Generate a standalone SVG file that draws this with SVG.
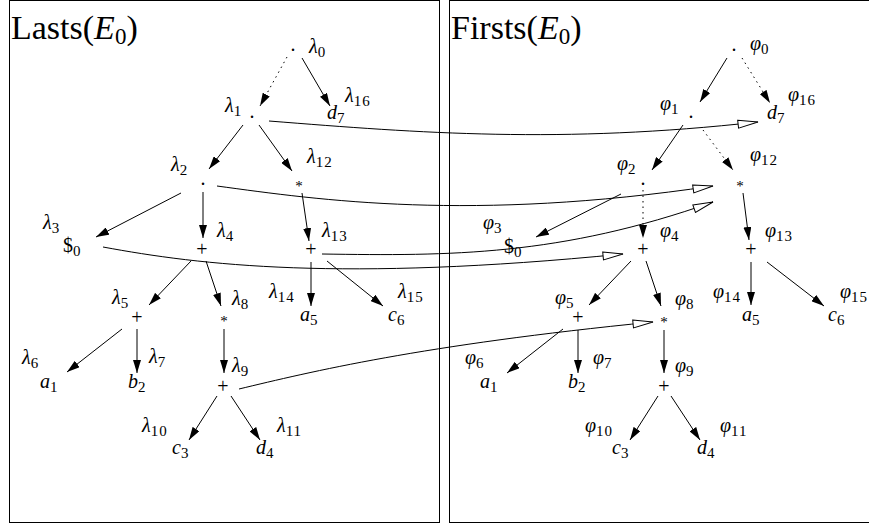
<svg xmlns="http://www.w3.org/2000/svg" width="869" height="525" viewBox="0 0 869 525">
<style>
text { font-family: "Liberation Serif", "Times New Roman", serif; font-size: 20px; fill: #000; }
.it { font-style: italic; }
.s { font-size: 15px; font-style: normal; letter-spacing: 1px; }
.title { font-size: 34px; }
.ts { font-size: 23px; }
.pl { font-size: 20px; text-anchor: middle; }
.st { font-size: 15px; text-anchor: middle; }
.dt { text-anchor: middle; }
.e { stroke: #000; stroke-width: 1; fill: none; marker-end: url(#ah); }
.d { stroke-dasharray: 1.5 4; }
.x { stroke: #000; stroke-width: 1; fill: none; marker-end: url(#oh); }
.panel { fill: none; stroke: #000; stroke-width: 1; }
</style>
<defs>
<marker id="ah" viewBox="0 0 13 8" refX="13" refY="4" markerWidth="13" markerHeight="8" markerUnits="userSpaceOnUse" orient="auto"><path d="M0,0 L13,4 L0,8 z" fill="#000"/></marker>
<marker id="oh" viewBox="0 0 22 10" refX="21" refY="5" markerWidth="22" markerHeight="10" markerUnits="userSpaceOnUse" orient="auto"><path d="M1,1 L21,5 L1,9 z" fill="#fff" stroke="#000" stroke-width="1"/></marker>
</defs>
<rect width="869" height="525" fill="#fff"/>
<g id="panels">
<rect class="panel" x="9.5" y="0.5" width="430" height="522"/>
<rect class="panel" x="449.5" y="0.5" width="430" height="522"/>
<text class="title" x="11" y="39">Lasts(<tspan class="it">E</tspan><tspan class="ts" dy="5">0</tspan><tspan dy="-5">)</tspan></text>
<text class="title" x="451" y="39">Firsts(<tspan class="it">E</tspan><tspan class="ts" dy="5">0</tspan><tspan dy="-5">)</tspan></text>
</g>
<g id="connectors">
<path class="e d" d="M287,57 L260,106"/>
<path class="e" d="M302,58 L330,106"/>
<path class="e" d="M243,125 L209,169"/>
<path class="e" d="M259,125 L292,171"/>
<path class="e" d="M181,193 L96,237"/>
<path class="e" d="M203,192 L203,238"/>
<path class="e" d="M302,193 L309,241"/>
<path class="e" d="M191,261 L149,305"/>
<path class="e" d="M206,261 L221,306"/>
<path class="e" d="M311,262 L311,306"/>
<path class="e" d="M327,261 L383,306"/>
<path class="e" d="M122,329 L67,372"/>
<path class="e" d="M137,329 L137,373"/>
<path class="e" d="M224,329 L224,373"/>
<path class="e" d="M217,396 L189,440"/>
<path class="e" d="M231,396 L260,440"/>
<path class="e" d="M727,58 L700,102"/>
<path class="e d" d="M742,58 L770,103"/>
<path class="e" d="M683,125 L652,170"/>
<path class="e d" d="M703,130 L733,170"/>
<path class="e" d="M621,194 L536,237"/>
<path class="e d" d="M643,190 L643,238"/>
<path class="e" d="M743,193 L749,240"/>
<path class="e" d="M631,261 L589,305"/>
<path class="e" d="M646,261 L661,306"/>
<path class="e" d="M751,262 L751,305"/>
<path class="e" d="M767,262 L824,306"/>
<path class="e" d="M563,329 L507,373"/>
<path class="e" d="M578,330 L578,373"/>
<path class="e" d="M664,330 L664,373"/>
<path class="e" d="M658,396 L630,440"/>
<path class="e" d="M671,396 L700,440"/>
<path class="x" d="M269,121 C420,133 560,144 758,122"/>
<path class="x" d="M217,186 C320,200 470,222 713,186"/>
<path class="x" d="M322,254 C450,256 560,256 713,202"/>
<path class="x" d="M103,247 C200,265 340,282 623,254"/>
<path class="x" d="M239,389 C310,372 420,345 653,322"/>
</g>
<g id="L0"><text class="dt" x="293" y="51">.</text><text x="309" y="53"><tspan class="it">λ</tspan><tspan class="s" dy="4">0</tspan></text></g>
<g id="L1"><text class="dt" x="252" y="118">.</text><text x="225" y="112"><tspan class="it">λ</tspan><tspan class="s" dy="4">1</tspan></text></g>
<g id="L16"><text x="327" y="119"><tspan class="it">d</tspan><tspan class="s" dy="4">7</tspan></text><text x="345" y="102"><tspan class="it">λ</tspan><tspan class="s" dy="4">16</tspan></text></g>
<g id="L2"><text class="dt" x="203" y="185">.</text><text x="171" y="171"><tspan class="it">λ</tspan><tspan class="s" dy="4">2</tspan></text></g>
<g id="L12"><text class="st" x="299" y="191">*</text><text x="307" y="163"><tspan class="it">λ</tspan><tspan class="s" dy="4">12</tspan></text></g>
<g id="L3"><text x="63" y="252">$<tspan class="s" dy="4">0</tspan></text><text x="43" y="229"><tspan class="it">λ</tspan><tspan class="s" dy="4">3</tspan></text></g>
<g id="L4"><text class="pl" x="202" y="256">+</text><text x="217" y="237"><tspan class="it">λ</tspan><tspan class="s" dy="4">4</tspan></text></g>
<g id="L13"><text class="pl" x="311" y="256">+</text><text x="322" y="237"><tspan class="it">λ</tspan><tspan class="s" dy="4">13</tspan></text></g>
<g id="L5"><text class="pl" x="137" y="324">+</text><text x="112" y="304"><tspan class="it">λ</tspan><tspan class="s" dy="4">5</tspan></text></g>
<g id="L8"><text class="st" x="224" y="326">*</text><text x="232" y="305"><tspan class="it">λ</tspan><tspan class="s" dy="4">8</tspan></text></g>
<g id="L14"><text x="300" y="321"><tspan class="it">a</tspan><tspan class="s" dy="4">5</tspan></text><text x="269" y="298"><tspan class="it">λ</tspan><tspan class="s" dy="4">14</tspan></text></g>
<g id="L15"><text x="388" y="321"><tspan class="it">c</tspan><tspan class="s" dy="4">6</tspan></text><text x="398" y="298"><tspan class="it">λ</tspan><tspan class="s" dy="4">15</tspan></text></g>
<g id="L6"><text x="40" y="388"><tspan class="it">a</tspan><tspan class="s" dy="4">1</tspan></text><text x="22" y="364"><tspan class="it">λ</tspan><tspan class="s" dy="4">6</tspan></text></g>
<g id="L7"><text x="128" y="388"><tspan class="it">b</tspan><tspan class="s" dy="4">2</tspan></text><text x="149" y="363"><tspan class="it">λ</tspan><tspan class="s" dy="4">7</tspan></text></g>
<g id="L9"><text class="pl" x="223" y="393">+</text><text x="232" y="372"><tspan class="it">λ</tspan><tspan class="s" dy="4">9</tspan></text></g>
<g id="L10"><text x="172" y="454"><tspan class="it">c</tspan><tspan class="s" dy="4">3</tspan></text><text x="142" y="432"><tspan class="it">λ</tspan><tspan class="s" dy="4">10</tspan></text></g>
<g id="L11"><text x="256" y="454"><tspan class="it">d</tspan><tspan class="s" dy="4">4</tspan></text><text x="277" y="432"><tspan class="it">λ</tspan><tspan class="s" dy="4">11</tspan></text></g>
<g id="R0"><text class="dt" x="734" y="51">.</text><text x="750" y="50"><tspan class="it">φ</tspan><tspan class="s" dy="4">0</tspan></text></g>
<g id="R1"><text class="dt" x="691" y="118">.</text><text x="660" y="110"><tspan class="it">φ</tspan><tspan class="s" dy="4">1</tspan></text></g>
<g id="R16"><text x="767" y="119"><tspan class="it">d</tspan><tspan class="s" dy="4">7</tspan></text><text x="788" y="101"><tspan class="it">φ</tspan><tspan class="s" dy="4">16</tspan></text></g>
<g id="R2"><text class="dt" x="643" y="185">.</text><text x="617" y="170"><tspan class="it">φ</tspan><tspan class="s" dy="4">2</tspan></text></g>
<g id="R12"><text class="st" x="740" y="191">*</text><text x="750" y="161"><tspan class="it">φ</tspan><tspan class="s" dy="4">12</tspan></text></g>
<g id="R3"><text x="504" y="253">$<tspan class="s" dy="4">0</tspan></text><text x="483" y="229"><tspan class="it">φ</tspan><tspan class="s" dy="4">3</tspan></text></g>
<g id="R4"><text class="pl" x="643" y="256">+</text><text x="660" y="237"><tspan class="it">φ</tspan><tspan class="s" dy="4">4</tspan></text></g>
<g id="R13"><text class="pl" x="751" y="256">+</text><text x="765" y="237"><tspan class="it">φ</tspan><tspan class="s" dy="4">13</tspan></text></g>
<g id="R5"><text class="pl" x="578" y="324">+</text><text x="555" y="304"><tspan class="it">φ</tspan><tspan class="s" dy="4">5</tspan></text></g>
<g id="R8"><text class="st" x="664" y="327">*</text><text x="675" y="305"><tspan class="it">φ</tspan><tspan class="s" dy="4">8</tspan></text></g>
<g id="R14"><text x="742" y="321"><tspan class="it">a</tspan><tspan class="s" dy="4">5</tspan></text><text x="713" y="298"><tspan class="it">φ</tspan><tspan class="s" dy="4">14</tspan></text></g>
<g id="R15"><text x="828" y="321"><tspan class="it">c</tspan><tspan class="s" dy="4">6</tspan></text><text x="840" y="298"><tspan class="it">φ</tspan><tspan class="s" dy="4">15</tspan></text></g>
<g id="R6"><text x="480" y="388"><tspan class="it">a</tspan><tspan class="s" dy="4">1</tspan></text><text x="465" y="364"><tspan class="it">φ</tspan><tspan class="s" dy="4">6</tspan></text></g>
<g id="R7"><text x="568" y="388"><tspan class="it">b</tspan><tspan class="s" dy="4">2</tspan></text><text x="593" y="364"><tspan class="it">φ</tspan><tspan class="s" dy="4">7</tspan></text></g>
<g id="R9"><text class="pl" x="664" y="393">+</text><text x="675" y="372"><tspan class="it">φ</tspan><tspan class="s" dy="4">9</tspan></text></g>
<g id="R10"><text x="612" y="454"><tspan class="it">c</tspan><tspan class="s" dy="4">3</tspan></text><text x="585" y="432"><tspan class="it">φ</tspan><tspan class="s" dy="4">10</tspan></text></g>
<g id="R11"><text x="697" y="454"><tspan class="it">d</tspan><tspan class="s" dy="4">4</tspan></text><text x="720" y="432"><tspan class="it">φ</tspan><tspan class="s" dy="4">11</tspan></text></g>
</svg>
